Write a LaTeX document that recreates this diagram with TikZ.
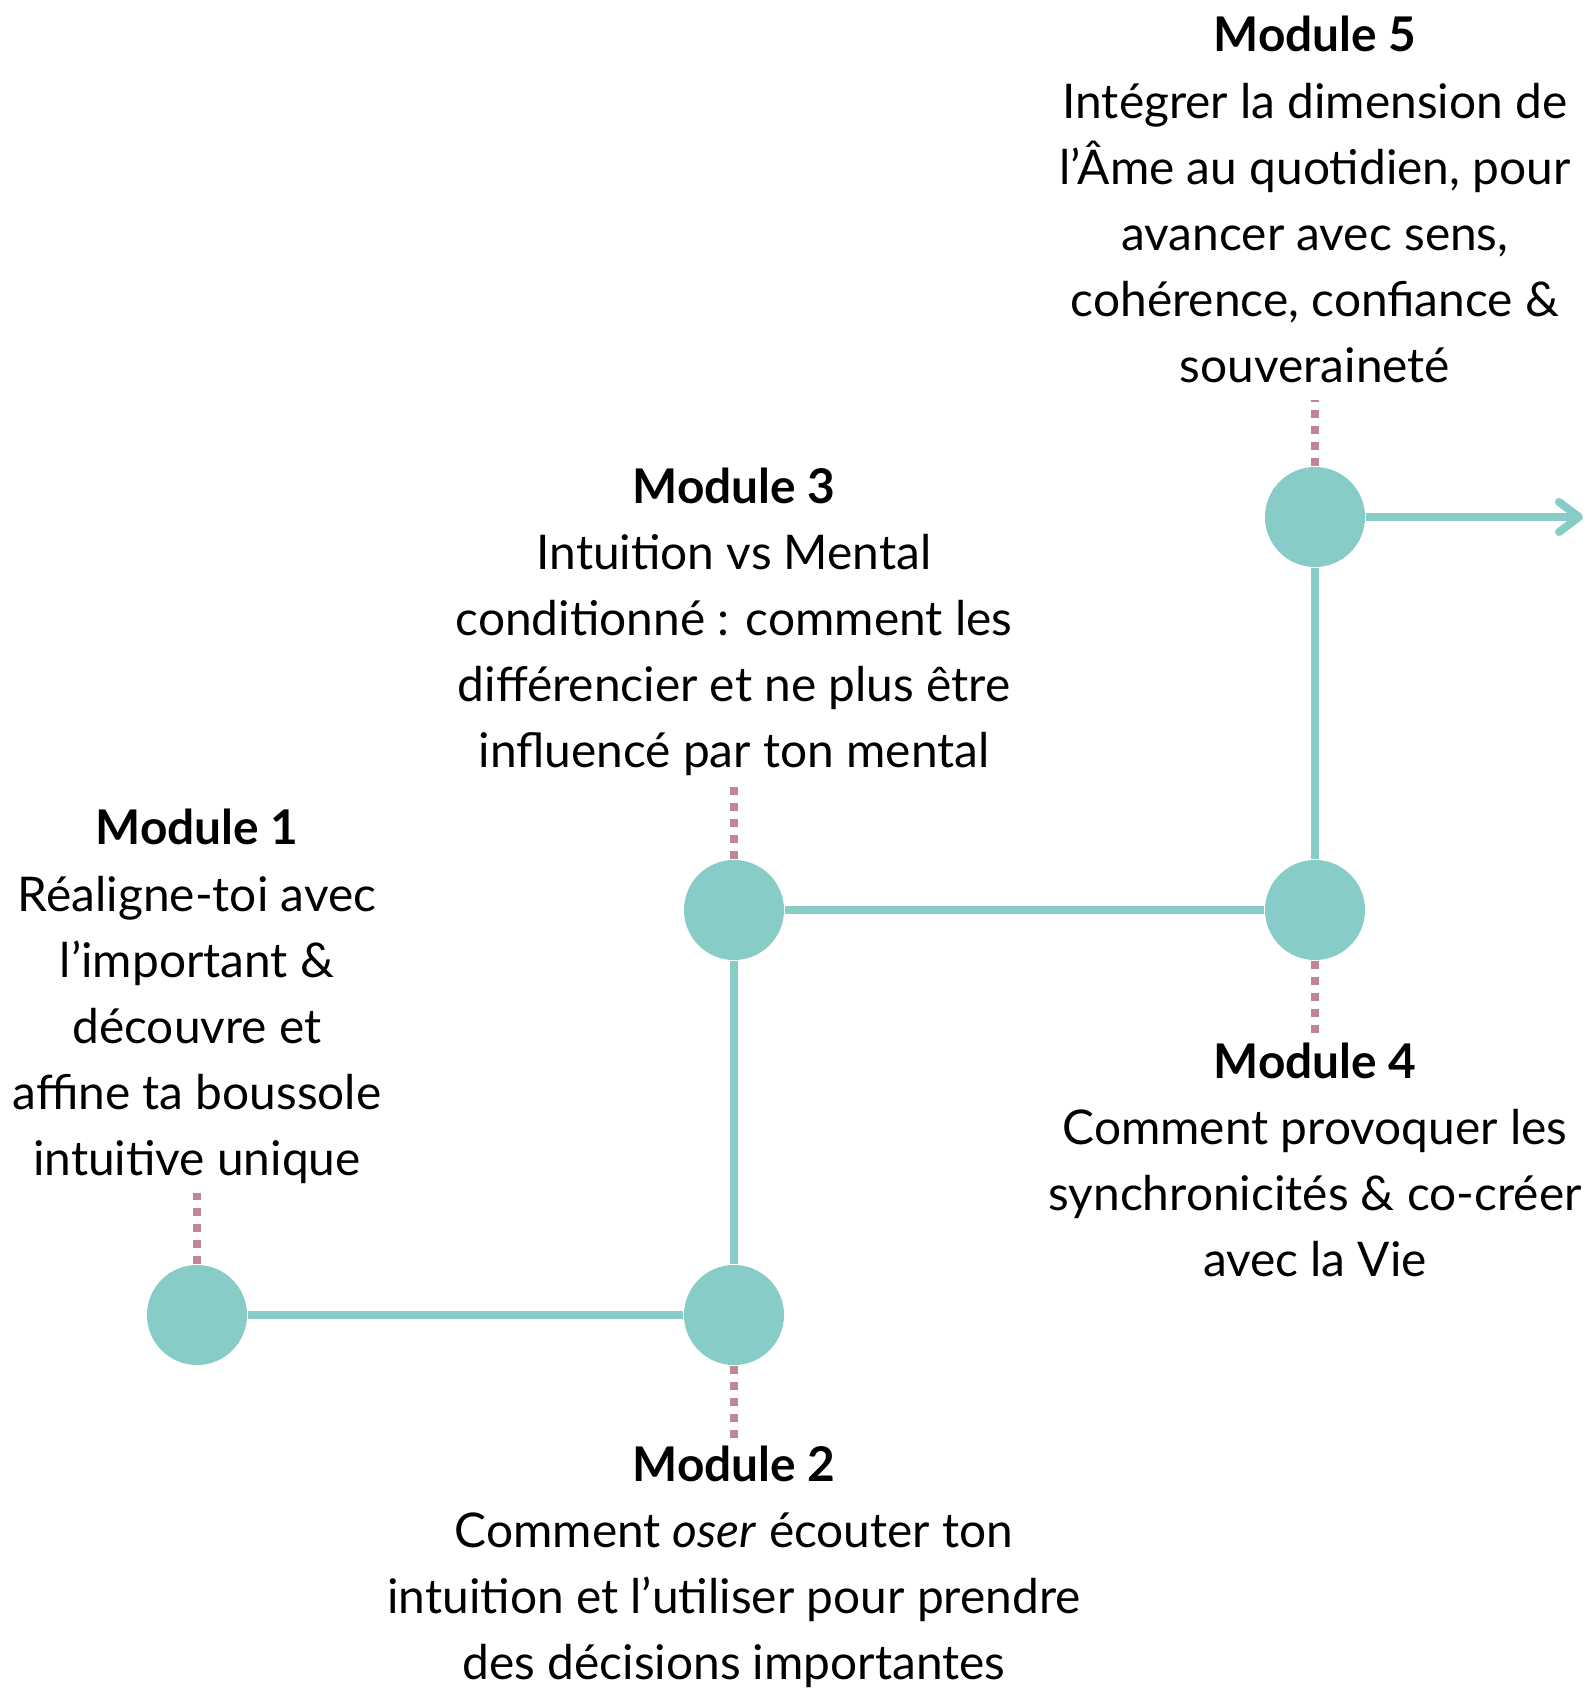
\documentclass[tikz,border=0pt]{standalone}
\usepackage{fontspec}
\setmainfont{Lato}
\usetikzlibrary{positioning,arrows.meta}

\definecolor{teal}{RGB}{136,204,200}
\definecolor{rose}{RGB}{192,134,150}

\tikzset{
  stop/.style={circle, fill=teal, minimum size=1cm, inner sep=0pt},
  track/.style={draw=teal, line width=0.08cm},
  tick/.style={draw=rose, line width=0.08cm, dash pattern=on 0.08cm off 0.08cm},
  note/.style={align=center, inner sep=0pt, text depth=0pt,
    font=\fontsize{13.6}{18.8}\selectfont}
}

\begin{document}
\begin{tikzpicture}[x=0.01cm, y=-0.01cm, >={Straight Barb[length=0.2cm, width=0.3cm, round]}]
  \useasboundingbox (0,0) rectangle (1587,1691);

  % stops on the track
  \node [stop] (m1) at (197,1315)  {};
  \node [stop] (m2) at (734,1315)  {};
  \node [stop] (m3) at (734,910)   {};
  \node [stop] (m4) at (1315,910)  {};
  \node [stop] (m5) at (1315,517)  {};
  \coordinate (out) at (1583,517);

  \draw [track] (m1) -- (m2) -- (m3) -- (m4) -- (m5);
  \draw [track, ->] (m5) -- (out);

  % ticks to the texts
  \coordinate [above=0.71cm of m1] (d1);
  \coordinate [below=0.73cm of m2] (d2);
  \coordinate [above=0.74cm of m3] (d3);
  \coordinate [below=0.75cm of m4] (d4);
  \coordinate [above=0.66cm of m5] (d5);
  \draw [tick] (m1) -- (d1);
  \draw [tick] (m2) -- (d2);
  \draw [tick] (m3) -- (d3);
  \draw [tick] (m4) -- (d4);
  \draw [tick] (m5) -- (d5);

  % texts
  \node [note, above=0.17cm of d1] (t1) {\textbf{Module 1}\\Réaligne-toi avec\\l’important \&\\découvre et\\affine ta boussole\\intuitive unique};
  \node [note, below=0.06cm of d2] (t2) {\textbf{Module 2}\\Comment \emph{oser} écouter ton\\intuition et l’utiliser pour prendre\\des décisions importantes};
  \node [note, above=0.17cm of d3] (t3) {\textbf{Module 3}\\Intuition vs Mental\\conditionné : comment les\\différencier et ne plus être\\influencé par ton mental};
  \node [note, below=0.06cm of d4] (t4) {\textbf{Module 4}\\Comment provoquer les\\synchronicités \& co-créer\\avec la Vie};
  \node [note, above=0.17cm of d5] (t5) {\textbf{Module 5}\\Intégrer la dimension de\\l’Âme au quotidien, pour\\avancer avec sens,\\cohérence, confiance \&\\souveraineté};
\end{tikzpicture}
\end{document}
